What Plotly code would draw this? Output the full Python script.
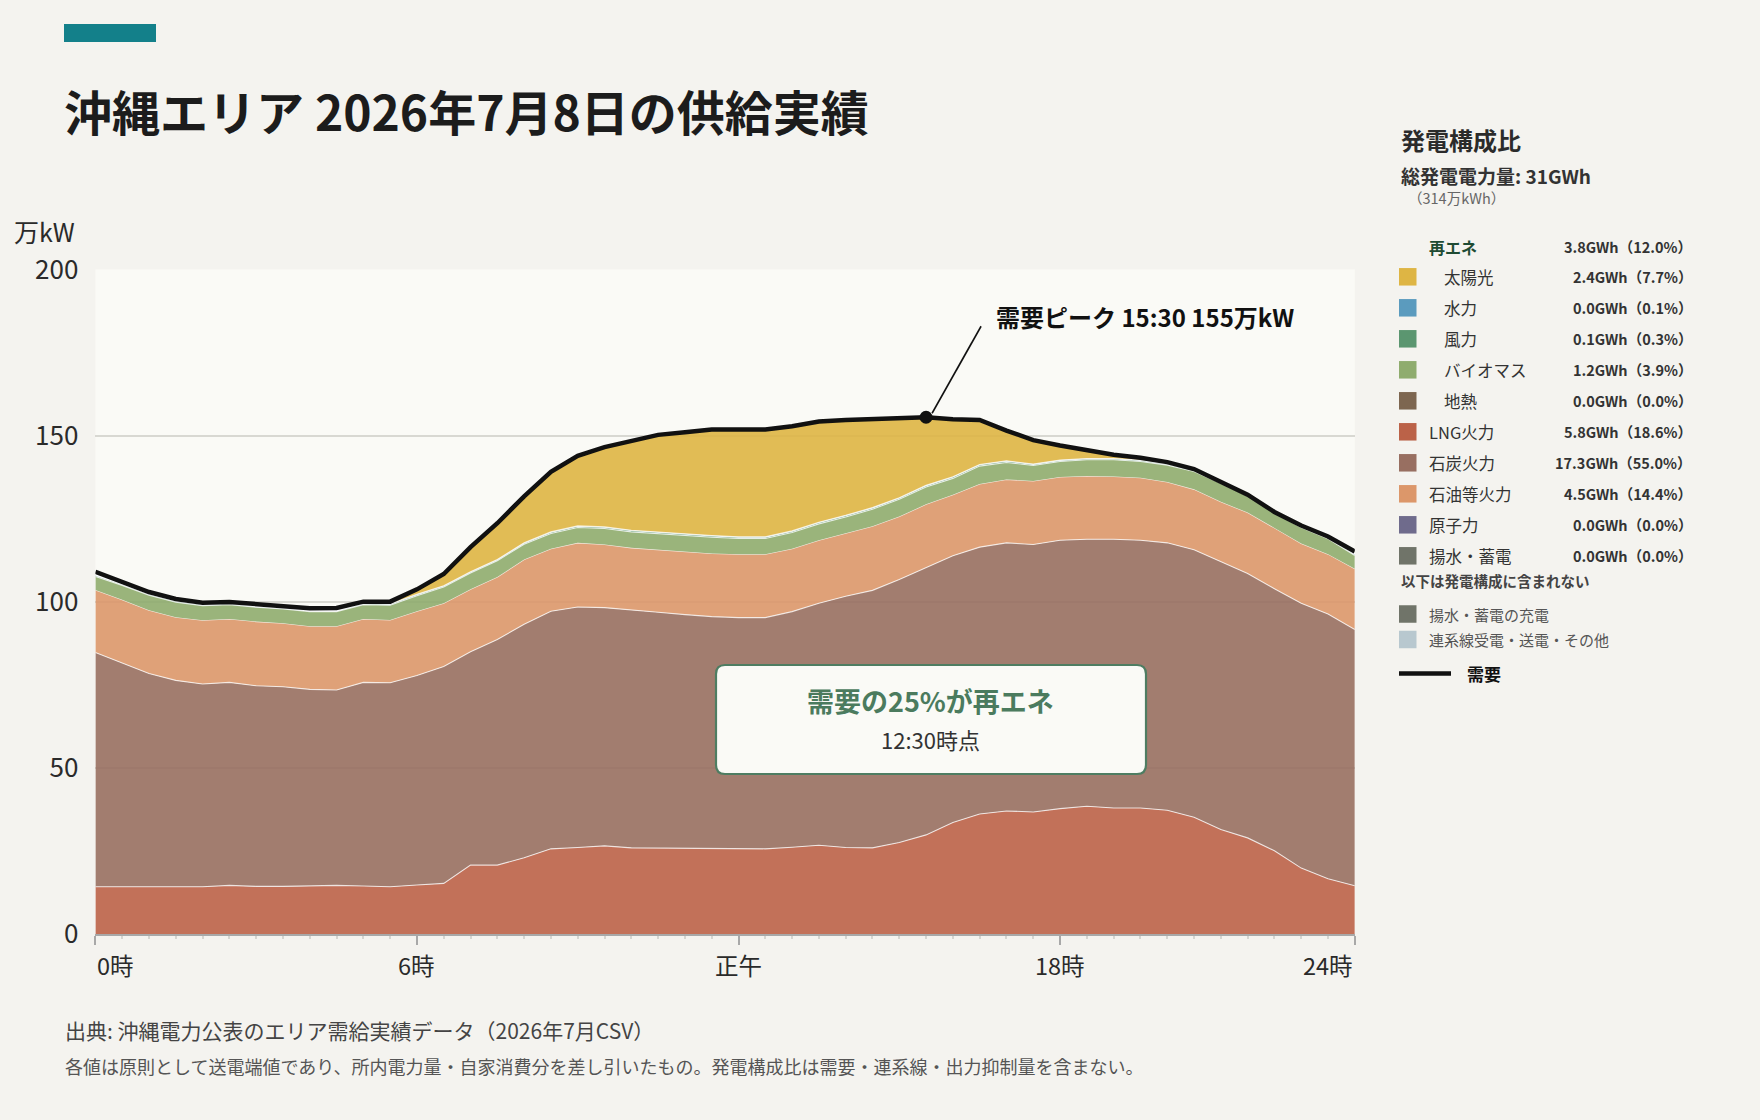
import plotly.graph_objects as go

# ---------------- data ----------------
hours = [0, 0.5, 1, 1.5, 2, 2.5, 3, 3.5, 4, 4.5, 5, 5.5,
         6, 6.5, 7, 7.5, 8, 8.5, 9, 9.5, 10, 10.5, 11, 11.5,
         12, 12.5, 13, 13.5, 14, 14.5, 15, 15.5, 16, 16.5, 17, 17.5,
         18, 18.5, 19, 19.5, 20, 20.5, 21, 21.5, 22, 22.5, 23, 23.5]

lng = [14.2, 14.2, 14.2, 14.3, 14.2, 14.6, 14.3, 14.3, 14.5, 14.6, 14.4, 14.2,
       14.7, 15.2, 20.7, 20.7, 22.9, 25.6, 26.0, 26.5, 25.9, 25.8, 25.8, 25.8,
       25.7, 25.6, 26.1, 26.7, 26.0, 25.9, 27.5, 29.8, 33.5, 36.1, 37.0, 36.7,
       37.7, 38.4, 37.9, 37.9, 37.2, 35.1, 31.4, 28.9, 25.0, 19.8, 16.6, 14.5]
coal = [70.5, 67.3, 64.2, 62.0, 61.0, 61.1, 60.4, 60.1, 59.1, 58.8, 61.3, 61.4,
        63.1, 65.3, 64.2, 67.9, 70.3, 71.5, 72.4, 71.7, 71.5, 71.0, 70.3, 69.7,
        69.5, 69.6, 70.9, 72.8, 75.6, 77.5, 79.2, 80.5, 80.3, 80.3, 80.7, 80.5,
        80.8, 80.4, 80.9, 80.6, 80.5, 80.5, 80.6, 79.6, 78.9, 79.7, 79.7, 77.1]
oil = [18.8, 19.1, 19.0, 19.0, 19.2, 19.1, 19.3, 19.1, 19.0, 19.2, 19.1, 18.9,
       19.3, 19.0, 18.8, 18.8, 19.5, 18.8, 19.3, 19.0, 18.8, 18.8, 18.9, 19.0,
       19.1, 19.1, 18.9, 19.0, 19.0, 19.3, 18.9, 19.0, 18.4, 19.0, 19.1, 19.1,
       19.0, 19.0, 18.9, 18.8, 18.3, 18.2, 18.1, 18.3, 18.3, 18.0, 18.0, 18.3]
nuclear = [0.0] * 48
pumped = [0.0] * 48
geothermal = [0.0] * 48
biomass = [4.1, 4.3, 4.5, 4.5, 4.4, 4.3, 4.3, 4.3, 4.4, 4.4, 4.3, 4.4,
           4.7, 4.9, 4.9, 4.9, 4.6, 4.6, 4.6, 4.8, 4.8, 4.8, 4.9, 4.9,
           4.7, 4.7, 4.9, 4.9, 4.9, 5.1, 5.2, 5.2, 4.9, 5.4, 5.1, 4.7,
           4.7, 4.9, 5.0, 4.9, 5.1, 5.4, 5.5, 5.0, 4.6, 4.8, 4.6, 4.0]
wind = [0.3, 0.3, 0.3, 0.3, 0.3, 0.3, 0.2, 0.2, 0.2, 0.2, 0.3, 0.3,
        0.3, 0.3, 0.3, 0.3, 0.3, 0.4, 0.4, 0.4, 0.4, 0.4, 0.4, 0.4,
        0.4, 0.4, 0.4, 0.4, 0.4, 0.4, 0.4, 0.4, 0.4, 0.4, 0.4, 0.3,
        0.3, 0.3, 0.3, 0.3, 0.3, 0.3, 0.3, 0.3, 0.3, 0.3, 0.3, 0.3]
hydro = [0.1, 0.1, 0.1, 0.1, 0.1, 0.1, 0.1, 0.1, 0.1, 0.1, 0.1, 0.1,
         0.1, 0.1, 0.1, 0.1, 0.1, 0.1, 0.1, 0.1, 0.1, 0.1, 0.1, 0.1,
         0.1, 0.1, 0.1, 0.1, 0.1, 0.1, 0.1, 0.1, 0.1, 0.1, 0.1, 0.1,
         0.1, 0.1, 0.1, 0.1, 0.1, 0.1, 0.1, 0.1, 0.1, 0.1, 0.1, 0.1]
solar = [0, 0, 0, 0, 0, 0, 0, 0, 0, 0, 0, 0,
         1.3, 3.5, 7.4, 10.9, 14.0, 18.2, 21.2, 24.1, 26.9, 29.4, 30.7, 32.0,
         32.4, 32.4, 31.6, 30.4, 28.8, 26.7, 23.8, 20.6, 17.4, 13.5, 9.2, 7.2,
         4.4, 2.4, 1.1, 0.5, 0, 0, 0, 0, 0, 0, 0, 0]
demand = [109.0, 105.8, 102.9, 100.8, 99.7, 99.9, 99.2, 98.8, 98.0, 98.1, 100.0, 100.0,
          103.7, 108.3, 116.4, 123.6, 131.7, 139.1, 143.9, 146.5, 148.3, 150.2, 151.0, 151.8,
          151.8, 151.8, 152.8, 154.2, 154.7, 154.9, 155.0, 155.5, 154.9, 154.7, 151.5, 148.6,
          147.0, 145.5, 144.2, 143.3, 142.0, 139.9, 136.0, 132.2, 127.0, 122.9, 119.6, 115.1]

x_tick_vals = [0, 6, 12, 18, 23.5]
x_tick_text = ["0時", "6時", "正午", "18時", "24時"]
y_tick_vals = [0, 50, 100, 150, 200]

legend_names = ["太陽光", "水力", "風力", "バイオマス", "地熱",
                "LNG火力", "石炭火力", "石油等火力", "原子力", "揚水・蓄電"]
legend_gwh = [2.4, 0.0, 0.1, 1.2, 0.0, 5.8, 17.3, 4.5, 0.0, 0.0]
legend_pct = [7.7, 0.1, 0.3, 3.9, 0.0, 18.6, 55.0, 14.4, 0.0, 0.0]
legend_renew = [True, True, True, True, True, False, False, False, False, False]
renew_gwh = 3.8
renew_pct = 12.0
total_gwh = 31
total_man_kwh = 314
extra_names = ["揚水・蓄電の充電", "連系線受電・送電・その他"]

# ---------------- styling ----------------
W, H = 1760, 1120
FONT = "Noto Sans CJK JP"
PAGE_BG = "#F4F3EF"
PLOT_BG = "#FAFAF6"

COL = {
    "太陽光": "#DEB544", "水力": "#5B9BBE", "風力": "#5B9670", "バイオマス": "#8FAC6E",
    "地熱": "#7D6650", "LNG火力": "#BB6248", "石炭火力": "#986F61", "石油等火力": "#DC976A",
    "原子力": "#6F6B8C", "揚水・蓄電": "#707469",
}
EXTRA_COL = ["#707469", "#B8C8CF"]


def rgba(hexc, a):
    h = hexc.lstrip("#")
    return "rgba(%d,%d,%d,%.2f)" % (int(h[0:2], 16), int(h[2:4], 16), int(h[4:6], 16), a)


def px(x):
    return x / W


def py(y):
    return 1 - y / H


X0, X1 = 95.4, 1354.8
Y_TOP, Y_BOT = 269.4, 933.9

fig = go.Figure()

stack_order = [("LNG火力", lng), ("石炭火力", coal), ("石油等火力", oil),
               ("原子力", nuclear), ("揚水・蓄電", pumped), ("地熱", geothermal),
               ("バイオマス", biomass), ("風力", wind), ("水力", hydro), ("太陽光", solar)]
for name, vals in stack_order:
    zero = all(v == 0 for v in vals)
    fig.add_trace(go.Scatter(
        x=hours, y=vals, name=name, mode="lines", stackgroup="supply",
        line=dict(color="rgba(255,255,255,0.75)", width=0 if zero else 1.1),
        fillcolor=rgba(COL[name], 0.9), showlegend=False, hoverinfo="skip"))

fig.add_trace(go.Scatter(x=hours, y=demand, mode="lines", name="需要",
                         line=dict(color="#111111", width=4.5), showlegend=False))

peak_i = max(range(len(demand)), key=lambda i: demand[i])
peak_x, peak_y = hours[peak_i], demand[peak_i]
fig.add_trace(go.Scatter(x=[peak_x], y=[peak_y], mode="markers",
                         marker=dict(color="#111111", size=13), showlegend=False))

shapes = []
ann = []

# leader line from peak
shapes.append(dict(type="line", xref="x", yref="y", xsizemode="pixel", ysizemode="pixel",
                   xanchor=peak_x, yanchor=peak_y, x0=6, y0=4, x1=55, y1=91,
                   line=dict(color="#111111", width=1.6)))
ann.append(dict(xref="x", yref="y", x=peak_x, y=peak_y, xshift=68, yshift=101,
                xanchor="left", yanchor="middle", showarrow=False,
                text="<b>需要ピーク %d:%02d %d万kW</b>" % (int(peak_x), int(round((peak_x % 1) * 60)), int(peak_y)),
                font=dict(family=FONT, size=24, color="#111111")))

# teal accent bar
shapes.append(dict(type="rect", xref="paper", yref="paper", x0=px(64), x1=px(156),
                   y0=py(42), y1=py(24), fillcolor="#13808A", line=dict(width=0)))
# title
ann.append(dict(xref="paper", yref="paper", x=px(62), y=py(110), xanchor="left", yanchor="middle",
                showarrow=False, text="<b>沖縄エリア 2026年7月8日の供給実績</b>",
                font=dict(family=FONT, size=48, color="#1C1C1C")))

# y-axis unit
ann.append(dict(xref="paper", yref="paper", x=px(12), y=py(231), xanchor="left", yanchor="middle",
                showarrow=False, text="万kW", font=dict(family=FONT, size=25, color="#2A2A2A")))

# x tick labels
for v, t in zip(x_tick_vals, x_tick_text):
    xa = "left" if v == x_tick_vals[0] else ("right" if v == x_tick_vals[-1] else "center")
    ann.append(dict(xref="x", yref="paper", x=v, y=py(965), xanchor=xa, yanchor="middle",
                    showarrow=False, text=t, font=dict(family=FONT, size=23.5, color="#2A2A2A")))

# rounded info box
bx0, bx1, by0, by1, r = 716, 1146, 665, 774, 9
path = ("M {a},{b} L {c},{b} Q {d},{b} {d},{e} L {d},{f} Q {d},{g} {c},{g} "
        "L {a},{g} Q {h},{g} {h},{f} L {h},{e} Q {h},{b} {a},{b} Z").format(
    a=px(bx0 + r), b=py(by0), c=px(bx1 - r), d=px(bx1), e=py(by0 + r),
    f=py(by1 - r), g=py(by1), h=px(bx0))
shapes.append(dict(type="path", xref="paper", yref="paper", path=path,
                   fillcolor="#FAFAF6", line=dict(color="#4E7D62", width=2.2)))
ann.append(dict(xref="paper", yref="paper", x=px(931), y=py(700), xanchor="center", yanchor="middle",
                showarrow=False, text="<b>需要の25%が再エネ</b>",
                font=dict(family=FONT, size=27, color="#4B7B5E")))
ann.append(dict(xref="paper", yref="paper", x=px(931), y=py(739), xanchor="center", yanchor="middle",
                showarrow=False, text="12:30時点",
                font=dict(family=FONT, size=22, color="#333333")))

# ---------------- legend panel ----------------
LX = 1399
VX = 1694
ann.append(dict(xref="paper", yref="paper", x=px(LX), y=py(139), xanchor="left", yanchor="middle",
                showarrow=False, text="<b>発電構成比</b>", font=dict(family=FONT, size=24, color="#2B2B2B")))
ann.append(dict(xref="paper", yref="paper", x=px(LX), y=py(175), xanchor="left", yanchor="middle",
                showarrow=False, text="<b>総発電電力量: %dGWh</b>" % total_gwh,
                font=dict(family=FONT, size=19, color="#333333")))
ann.append(dict(xref="paper", yref="paper", x=px(1406), y=py(197), xanchor="left", yanchor="middle",
                showarrow=False, text="（%d万kWh）" % total_man_kwh,
                font=dict(family=FONT, size=14.5, color="#666666")))
ann.append(dict(xref="paper", yref="paper", x=px(1427), y=py(246.5), xanchor="left", yanchor="middle",
                showarrow=False, text="<b>再エネ</b>", font=dict(family=FONT, size=16, color="#1E4B33")))
ann.append(dict(xref="paper", yref="paper", x=px(VX), y=py(246.5), xanchor="right", yanchor="middle",
                showarrow=False, text="<b>%.1fGWh（%.1f%%）</b>" % (renew_gwh, renew_pct),
                font=dict(family=FONT, size=14.5, color="#333333")))

row_y0, row_dy, sw = 276.8, 31.0, 17.5
for k, (nm, g, p, rn) in enumerate(zip(legend_names, legend_gwh, legend_pct, legend_renew)):
    yc = row_y0 + k * row_dy
    shapes.append(dict(type="rect", xref="paper", yref="paper", x0=px(LX), x1=px(LX + sw),
                       y0=py(yc + sw / 2), y1=py(yc - sw / 2), fillcolor=COL[nm], line=dict(width=0)))
    ann.append(dict(xref="paper", yref="paper", x=px(1441.5 if rn else 1427), y=py(yc),
                    xanchor="left", yanchor="middle", showarrow=False, text=nm,
                    font=dict(family=FONT, size=16.5, color="#333333")))
    ann.append(dict(xref="paper", yref="paper", x=px(VX), y=py(yc), xanchor="right", yanchor="middle",
                    showarrow=False, text="<b>%.1fGWh（%.1f%%）</b>" % (g, p),
                    font=dict(family=FONT, size=14.5, color="#333333")))

ann.append(dict(xref="paper", yref="paper", x=px(LX), y=py(580), xanchor="left", yanchor="middle",
                showarrow=False, text="<b>以下は発電構成に含まれない</b>",
                font=dict(family=FONT, size=14.5, color="#444444")))
for k, (nm, c) in enumerate(zip(extra_names, EXTRA_COL)):
    yc = 614 + k * 25.5
    shapes.append(dict(type="rect", xref="paper", yref="paper", x0=px(LX), x1=px(LX + sw),
                       y0=py(yc + sw / 2), y1=py(yc - sw / 2), fillcolor=c, line=dict(width=0)))
    ann.append(dict(xref="paper", yref="paper", x=px(1427), y=py(yc), xanchor="left", yanchor="middle",
                    showarrow=False, text=nm, font=dict(family=FONT, size=15, color="#555555")))
shapes.append(dict(type="line", xref="paper", yref="paper", x0=px(LX), x1=px(1451),
                   y0=py(673.5), y1=py(673.5), line=dict(color="#111111", width=4.5)))
ann.append(dict(xref="paper", yref="paper", x=px(1465), y=py(673.5), xanchor="left", yanchor="middle",
                showarrow=False, text="<b>需要</b>", font=dict(family=FONT, size=17, color="#111111")))

# ---------------- footer ----------------
ann.append(dict(xref="paper", yref="paper", x=px(63), y=py(1030), xanchor="left", yanchor="middle",
                showarrow=False, text="出典: 沖縄電力公表のエリア需給実績データ（2026年7月CSV）",
                font=dict(family=FONT, size=21, color="#444444")))
ann.append(dict(xref="paper", yref="paper", x=px(63), y=py(1066), xanchor="left", yanchor="middle",
                showarrow=False,
                text="各値は原則として送電端値であり、所内電力量・自家消費分を差し引いたもの。発電構成比は需要・連系線・出力抑制量を含まない。",
                font=dict(family=FONT, size=18, color="#555555")))

fig.update_layout(
    width=W, height=H,
    margin=dict(l=0, r=0, t=0, b=0),
    paper_bgcolor=PAGE_BG, plot_bgcolor=PLOT_BG,
    font=dict(family=FONT, color="#2A2A2A"),
    showlegend=False,
    xaxis=dict(domain=[px(X0), px(X1)], range=[0, 23.5], tickvals=x_tick_vals,
               showticklabels=False, showgrid=False, zeroline=False,
               showline=True, linecolor="#A8A8A8", linewidth=1.5,
               ticks="outside", ticklen=9, tickwidth=1.5, tickcolor="#A8A8A8",
               minor=dict(dtick=0.5, tick0=0, ticks="outside", ticklen=3, tickcolor="#D5D5D0"),
               automargin=False, fixedrange=True),
    yaxis=dict(domain=[py(Y_BOT), py(Y_TOP)], range=[0, 200], tickvals=y_tick_vals,
               showgrid=True, gridcolor="#D8D8D2", gridwidth=1.5, zeroline=False,
               ticks="", ticklabelstandoff=16,
               tickfont=dict(family=FONT, size=26, color="#2A2A2A"),
               automargin=False, fixedrange=True),
    shapes=shapes, annotations=ann,
)

fig.write_html("out.html")
